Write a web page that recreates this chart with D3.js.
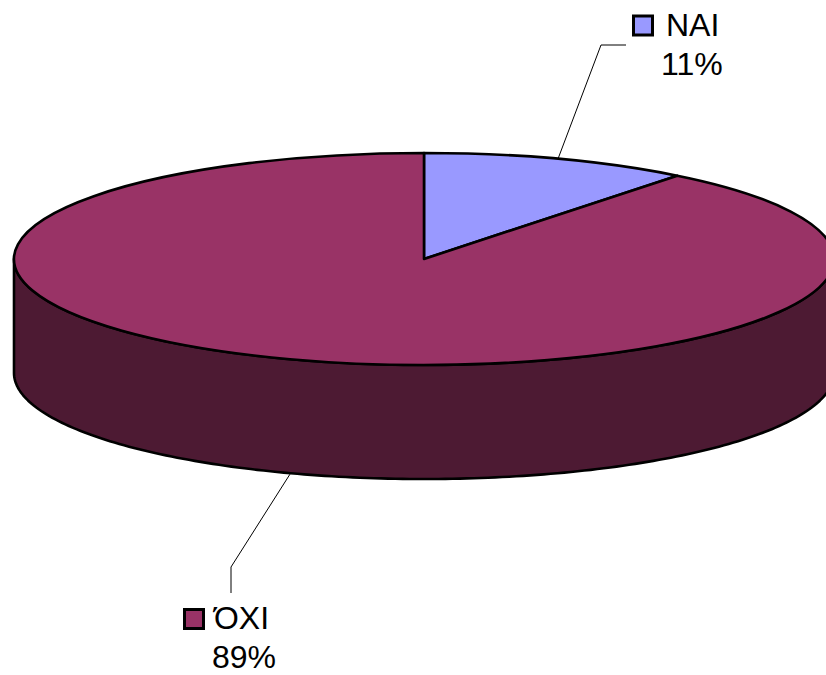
<!DOCTYPE html>
<html>
<head>
<meta charset="utf-8">
<script src="https://cdn.jsdelivr.net/npm/d3@7.9.0/dist/d3.min.js"></script>
<style>
  html, body { margin: 0; padding: 0; background: #fff; overflow: hidden; }
  svg { display: block; }
</style>
</head>
<body>
<div id="chart"></div>
<script>
// chart data: shares, labels show them rounded
const categories = ['ΝΑΙ', 'ΌΧΙ'];
const values = [10.6, 89.4];
const colors = ['#9999FF', '#993366'];
const sideColors = ['#4D4D80', '#4D1A33'];

const width = 826, height = 675;
const cx = 424, cy = 259, rx = 410, ry = 106, depth = 114;

const svg = d3.select('#chart').append('svg')
    .attr('width', width)
    .attr('height', height)
    .attr('viewBox', `0 0 ${width} ${height}`);

const slices = d3.pie().sort(null)(values);

// point on the rim of the tilted disc, angle clockwise from 12 o'clock
const rimX = a => cx + rx * Math.sin(a);
const rimY = a => cy - ry * Math.cos(a);

// Side wall: the front half of the rim, belongs to whichever slice faces us
const frontAngles = d3.range(90, 270.5, 1).map(d => d * Math.PI / 180);
const wall = d3.line()(
    frontAngles.map(a => [rimX(a), rimY(a)])
        .concat(frontAngles.slice().reverse().map(a => [rimX(a), rimY(a) + depth]))
) + 'Z';

svg.append('path')
    .attr('d', wall)
    .attr('fill', sideColors[1])
    .attr('stroke', '#000')
    .attr('stroke-width', 2.6)
    .attr('stroke-linejoin', 'round');

// Top of the disc
const arc = d3.arc().innerRadius(0).outerRadius(rx);

svg.append('g')
    .attr('transform', `translate(${cx},${cy}) scale(1,${ry / rx})`)
    .selectAll('path')
    .data(slices)
    .join('path')
    .attr('d', arc)
    .attr('fill', (_, i) => colors[i])
    .attr('stroke', '#000')
    .attr('stroke-width', 2.6)
    .attr('stroke-linejoin', 'round')
    .attr('vector-effect', 'non-scaling-stroke');

// Leader lines, from the middle of each slice out to its label
const midAngle = d => (d.startAngle + d.endAngle) / 2;
const leaders = [
    { start: d => [rimX(midAngle(d)), rimY(midAngle(d))], elbow: [601, 45], end: [626, 45] },
    { start: d => [rimX(midAngle(d)), rimY(midAngle(d)) + depth + 1], elbow: [231, 567], end: [231, 593] }
];

svg.append('g')
    .selectAll('path')
    .data(slices)
    .join('path')
    .attr('d', (d, i) => d3.line()([leaders[i].start(d), leaders[i].elbow, leaders[i].end]))
    .attr('fill', 'none')
    .attr('stroke', '#000')
    .attr('stroke-width', 1);

// Data labels
const labelPos = [
    { keyX: 633.5, keyY: 16, nameX: 666, nameY: 36, pctX: 661, pctY: 75 },
    { keyX: 184.5, keyY: 609.5, nameX: 214, nameY: 628.5, pctX: 212, pctY: 668 }
];

const label = svg.append('g')
    .selectAll('g')
    .data(slices)
    .join('g');

label.append('rect')
    .attr('x', (_, i) => labelPos[i].keyX)
    .attr('y', (_, i) => labelPos[i].keyY)
    .attr('width', 19)
    .attr('height', 19)
    .attr('fill', (_, i) => colors[i])
    .attr('stroke', '#000')
    .attr('stroke-width', 3);

label.append('text')
    .attr('x', (_, i) => labelPos[i].nameX)
    .attr('y', (_, i) => labelPos[i].nameY)
    .attr('font-family', '"Liberation Sans", Arial, sans-serif')
    .attr('font-size', 32)
    .attr('fill', '#000')
    .text((_, i) => categories[i]);

label.append('text')
    .attr('x', (_, i) => labelPos[i].pctX)
    .attr('y', (_, i) => labelPos[i].pctY)
    .attr('font-family', '"Liberation Sans", Arial, sans-serif')
    .attr('font-size', 32)
    .attr('fill', '#000')
    .text(d => `${Math.round(d.value)}%`);
</script>
</body>
</html>
